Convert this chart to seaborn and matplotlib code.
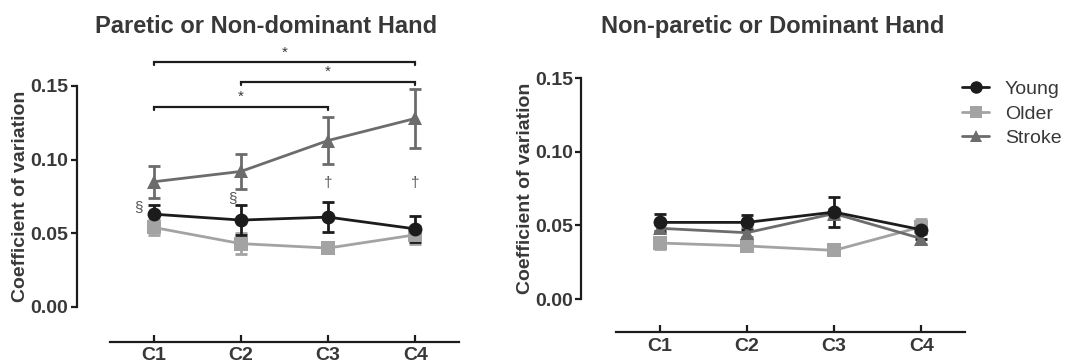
import numpy as np
import pandas as pd
import seaborn as sns
import matplotlib.pyplot as plt
from matplotlib.lines import Line2D

# --- data ---
conditions = ["C1", "C2", "C3", "C4"]
groups = ["Older", "Stroke", "Young"]  # draw order (Young on top)

# Paretic or non-dominant hand
paretic_young = [0.063, 0.059, 0.061, 0.053]
paretic_young_err = [0.006, 0.010, 0.010, 0.009]
paretic_older = [0.054, 0.043, 0.040, 0.049]
paretic_older_err = [0.005, 0.007, 0.003, 0.006]
paretic_stroke = [0.085, 0.092, 0.113, 0.128]
paretic_stroke_err = [0.011, 0.012, 0.016, 0.020]

# Non-paretic or dominant hand
nonparetic_young = [0.052, 0.052, 0.059, 0.047]
nonparetic_young_err = [0.006, 0.005, 0.010, 0.006]
nonparetic_older = [0.038, 0.036, 0.033, 0.049]
nonparetic_older_err = [0.004, 0.003, 0.002, 0.005]
nonparetic_stroke = [0.048, 0.045, 0.058, 0.041]
nonparetic_stroke_err = [0.003, 0.003, 0.003, 0.004]

# significance brackets on the paretic panel: (start, end, y, star position)
brackets = [("C1", "C4", 0.166, 1.5), ("C2", "C4", 0.153, 2.0), ("C1", "C3", 0.136, 1.0)]
# group-difference symbols: (symbol, condition, x shift, y)
symbols = [("§", "C1", -0.17, 0.068), ("§", "C2", -0.10, 0.074),
           ("†", "C3", 0.0, 0.084), ("†", "C4", 0.0, 0.084)]

palette = {"Young": "#1c1c1c", "Older": "#a3a3a3", "Stroke": "#6c6c6c"}
markers = {"Young": "o", "Older": "s", "Stroke": "^"}
TEXT = "#383838"


def make_frame(young, young_err, older, older_err, stroke, stroke_err):
    rows = []
    for name, vals, errs in [("Older", older, older_err), ("Stroke", stroke, stroke_err),
                             ("Young", young, young_err)]:
        for i, c in enumerate(conditions):
            rows.append({"group": name, "cond": c, "pos": i, "cv": vals[i], "err": errs[i]})
    return pd.DataFrame(rows)


df_par = make_frame(paretic_young, paretic_young_err, paretic_older, paretic_older_err,
                    paretic_stroke, paretic_stroke_err)
df_non = make_frame(nonparetic_young, nonparetic_young_err, nonparetic_older, nonparetic_older_err,
                    nonparetic_stroke, nonparetic_stroke_err)

sns.set_style("ticks")
plt.rcParams["font.family"] = ["Liberation Sans", "DejaVu Sans"]

fig = plt.figure(figsize=(10.69, 3.63), dpi=100)
ax1 = fig.add_axes([0.1029, 0.1543, 0.3265, 0.6088])
ax2 = fig.add_axes([0.5762, 0.1763, 0.3265, 0.6088])


def draw_panel(ax, df, yoff, xoff):
    for z, g in enumerate(groups):
        sub = df[df["group"] == g]
        ax.errorbar(sub["pos"], sub["cv"], yerr=sub["err"], fmt="none",
                    ecolor=palette[g], elinewidth=2, capsize=4, capthick=2, zorder=2 + z)
    sns.lineplot(data=df, x="pos", y="cv", hue="group", style="group",
                 hue_order=groups, style_order=groups, palette=palette,
                 markers=markers, dashes=False, markersize=10, markeredgewidth=0,
                 linewidth=2, legend=False, ax=ax, zorder=5)
    ax.set_xlim(-0.5, 3.5)
    ax.set_ylim(0, 0.15)
    ax.set_xticks(range(len(conditions)))
    ax.set_xticklabels(conditions)
    ax.set_yticks([0, 0.05, 0.10, 0.15])
    ax.set_yticklabels(["0.00", "0.05", "0.10", "0.15"])
    ax.set_xlabel("")
    ax.set_ylabel("Coefficient of variation", fontsize=14, fontweight="bold", color=TEXT, labelpad=1)
    for s in ["top", "right"]:
        ax.spines[s].set_visible(False)
    ax.spines["left"].set_position(("outward", yoff))
    ax.spines["bottom"].set_position(("outward", xoff))
    for s in ["left", "bottom"]:
        ax.spines[s].set_linewidth(1.6)
        ax.spines[s].set_color("#1c1c1c")
    ax.tick_params(axis="y", direction="out", length=4, width=1.6, color="#1c1c1c", pad=2,
                   labelsize=14, labelcolor=TEXT)
    ax.tick_params(axis="x", direction="in", length=5, width=1.6, color="#1c1c1c", pad=4,
                   labelsize=14, labelcolor=TEXT)
    for lab in ax.get_xticklabels() + ax.get_yticklabels():
        lab.set_fontweight("bold")


draw_panel(ax1, df_par, 24, 25)
draw_panel(ax2, df_non, 25, 24)

# significance brackets
for a, b, y, star in brackets:
    x0, x1 = conditions.index(a), conditions.index(b)
    ax1.plot([x0, x0, x1, x1], [y - 0.002, y, y, y - 0.002], color="#1c1c1c", lw=1.6,
             clip_on=False, solid_joinstyle="miter")
    ax1.text(star, y + 0.002, "*", ha="center", va="bottom", fontsize=11, color=TEXT)

for sym, c, dx, y in symbols:
    ax1.text(conditions.index(c) + dx, y, sym, ha="center", va="center", fontsize=11, color="#555555")

fig.text(0.249, 0.927, "Paretic or Non-dominant Hand", ha="center", va="center",
         fontsize=17, fontweight="bold", color=TEXT)
fig.text(0.723, 0.927, "Non-paretic or Dominant Hand", ha="center", va="center",
         fontsize=17, fontweight="bold", color=TEXT)

handles = [Line2D([], [], color=palette[g], marker=markers[g], markersize=9, mew=0, lw=2)
           for g in ["Young", "Older", "Stroke"]]
fig.legend(handles, ["Young", "Older", "Stroke"], loc="upper left",
           bbox_to_anchor=(0.900, 0.778), frameon=False, fontsize=14, handlelength=1.4,
           handletextpad=0.8, labelspacing=0.35, borderpad=0, borderaxespad=0, labelcolor=TEXT)

fig.savefig("out.png", dpi=100)
